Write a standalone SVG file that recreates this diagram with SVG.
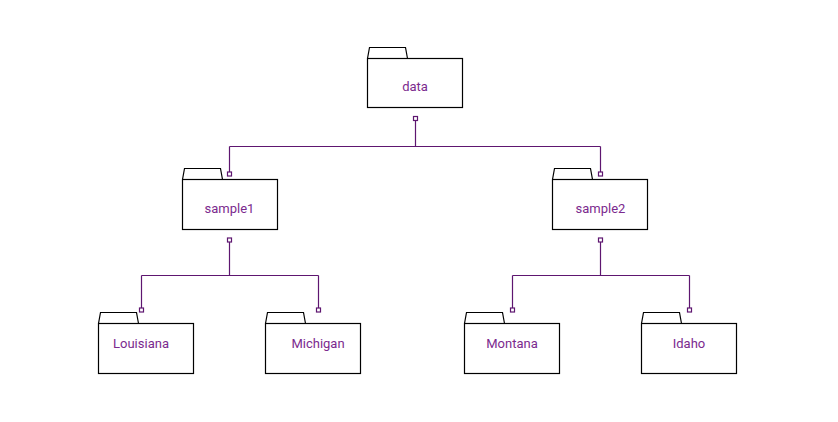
<svg xmlns="http://www.w3.org/2000/svg" width="838" height="422" viewBox="0 0 838 422">
<style>
.body{fill:#fff;stroke:#000;stroke-width:1.2}
.tab{fill:#fff;stroke:#000;stroke-width:1.2}
.lbl{font-family:Roboto,"Liberation Sans",sans-serif;font-size:13px;fill:#7b2a8e;text-anchor:middle}
.wire{fill:none;stroke:#5e1670;stroke-width:1.2}
.pt{fill:#fff;stroke:#5e1670;stroke-width:1.2}
</style>
<rect width="838" height="422" fill="#fff"/>
<g id="connectors">
<path class="wire" d="M415.5 120.5V146.5M229.5 146.5H600.5M229.5 146.5V172M600.5 146.5V172"/>
<path class="wire" d="M229.5 242V275.5M141.5 275.5H318.5M141.5 275.5V308M318.5 275.5V308"/>
<path class="wire" d="M600.5 242V275.5M512.5 275.5H689.5M512.5 275.5V308M689.5 275.5V308"/>
<rect class="pt" x="413.5" y="116.5" width="4" height="4"/>
<rect class="pt" x="227.5" y="172" width="4" height="4"/>
<rect class="pt" x="598.5" y="172" width="4" height="4"/>
<rect class="pt" x="227.5" y="238" width="4" height="4"/>
<rect class="pt" x="598.5" y="238" width="4" height="4"/>
<rect class="pt" x="139.5" y="308" width="4" height="4"/>
<rect class="pt" x="316.5" y="308" width="4" height="4"/>
<rect class="pt" x="510.5" y="308" width="4" height="4"/>
<rect class="pt" x="687.5" y="308" width="4" height="4"/>
</g>
<g id="data">
<path class="tab" d="M367.5 58.5L369.5 47.5H405.5L407.5 58.5"/>
<rect class="body" x="367.5" y="58.5" width="95" height="49"/>
<text class="lbl" x="415" y="91">data</text>
</g>
<g id="sample1">
<path class="tab" d="M182.5 179.5L184.5 168.5H220.5L222.5 179.5"/>
<rect class="body" x="182.5" y="179.5" width="95" height="50"/>
<text class="lbl" x="229.5" y="213">sample1</text>
</g>
<g id="sample2">
<path class="tab" d="M552.5 179.5L554.5 168.5H590.5L592.5 179.5"/>
<rect class="body" x="552.5" y="179.5" width="95" height="50"/>
<text class="lbl" x="600.5" y="213">sample2</text>
</g>
<g id="Louisiana">
<path class="tab" d="M98.5 323.5L100.5 312.5H136.5L138.5 323.5"/>
<rect class="body" x="98.5" y="323.5" width="95" height="50"/>
<text class="lbl" x="141" y="348">Louisiana</text>
</g>
<g id="Michigan">
<path class="tab" d="M265.5 323.5L267.5 312.5H303.5L305.5 323.5"/>
<rect class="body" x="265.5" y="323.5" width="95" height="50"/>
<text class="lbl" x="318" y="348">Michigan</text>
</g>
<g id="Montana">
<path class="tab" d="M464.5 323.5L466.5 312.5H502.5L504.5 323.5"/>
<rect class="body" x="464.5" y="323.5" width="95" height="50"/>
<text class="lbl" x="512" y="348">Montana</text>
</g>
<g id="Idaho">
<path class="tab" d="M641.5 323.5L643.5 312.5H679.5L681.5 323.5"/>
<rect class="body" x="641.5" y="323.5" width="95" height="50"/>
<text class="lbl" x="689" y="348">Idaho</text>
</g>
</svg>
